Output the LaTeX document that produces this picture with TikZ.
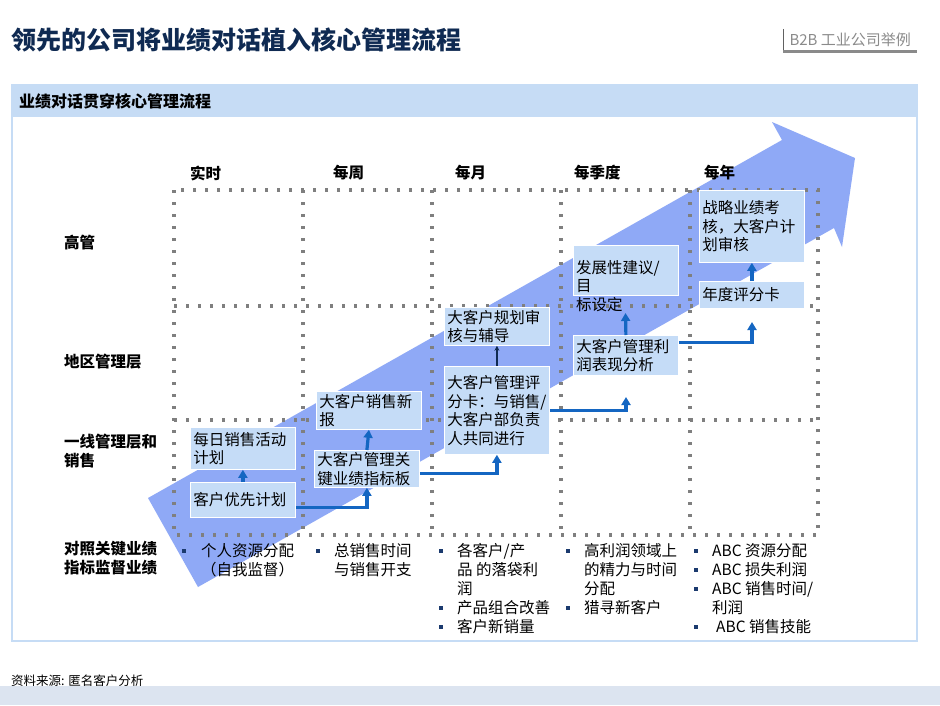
\documentclass[tikz,border=0pt]{standalone}
\usepackage{fontspec}
\setmainfont{Noto Sans CJK SC}
\usepackage{xcolor}
\usepackage{tikz}
\usetikzlibrary{arrows.meta, positioning}
\definecolor{titlenavy}{HTML}{0F2A52}
\definecolor{panelblue}{HTML}{C6DCF5}
\definecolor{cardblue}{HTML}{C5DCF7}
\definecolor{arrowblue}{HTML}{8FA9F6}
\definecolor{flowblue}{HTML}{1466C2}
\definecolor{gridgray}{HTML}{7F7F7F}
\definecolor{footband}{HTML}{DCE4F0}
\definecolor{bulletnavy}{HTML}{1B3A6E}
\definecolor{taggray}{HTML}{8A8A8A}

\begin{document}
\begin{tikzpicture}[
    x=1pt, y=-1pt,
    card/.style={
        rectangle, draw=white, line width=0.8pt, fill=cardblue,
        text width=99pt, inner xsep=3pt, inner ysep=2pt,
        align=left, anchor=north west,
        font=\fontsize{15.5}{18.5}\selectfont
    },
    cardtext/.style={inner sep=0pt, anchor=north west, align=left,
        font=\fontsize{15.5}{18.5}\selectfont},
    colhead/.style={anchor=west, inner sep=0pt, font=\fontsize{15.5}{19}\selectfont\bfseries},
    rowhead/.style={anchor=west, inner sep=0pt, align=left, font=\fontsize{15.5}{19}\selectfont\bfseries},
    item/.style={anchor=north west, inner sep=0pt, align=left, font=\fontsize{15.5}{19}\selectfont},
    bul/.style={rectangle, fill=bulletnavy, inner sep=0pt, minimum size=4.5pt},
    grid/.style={draw=gridgray, line width=3.2pt, dash pattern=on 3.2pt off 8.8pt},
    flow/.style={draw=flowblue, line width=3.2pt, -{Stealth[length=8pt, width=9pt, inset=0pt]}},
    thinflow/.style={draw=titlenavy, line width=1.2pt, -{Stealth[length=5pt, width=5pt]}}
]
\useasboundingbox (0,0) rectangle (940,705);

% title and tag
\node[anchor=west, inner sep=0pt, text=titlenavy, font=\fontsize{25}{28}\selectfont\bfseries] (title) at (11,40) {领先的公司将业绩对话植入核心管理流程};
\node[anchor=west, inner sep=2pt, minimum width=134pt, minimum height=22pt, text=taggray,
      font=\fontsize{15}{17}\selectfont] (tag) at (783,40) {B2B 工业公司举例};
\draw[taggray!70!black, line width=0.8pt] (tag.north west) -- (tag.south west);
\draw[taggray, line width=3pt] (tag.south west) -- (tag.south east);

% panel
\draw[panelblue, line width=2pt, fill=white] (12,85) rectangle (917,641);
\fill[panelblue] (12,85) rectangle (917,117);
\node[anchor=west, inner sep=0pt, font=\fontsize{16}{18}\selectfont\bfseries] (panelhead) at (19,101) {业绩对话贯穿核心管理流程};

% big arrow
\fill[arrowblue] (148,498) -- (782,140) -- (772,122) -- (855,158) -- (842,247) -- (834,228) -- (198,587) -- cycle;

% grid
\draw[grid] (174,190) rectangle (818,535);
\foreach \gx in {303,432,561,690}
    \draw[grid] (\gx,190) -- (\gx,535);
\foreach \gy in {306,420}
    \draw[grid] (174,\gy) -- (818,\gy);

% column and row heads
\node[colhead] (realtime) at (190,173) {实时};
\node[colhead] (weekly) at (333,173) {每周};
\node[colhead] (monthly) at (455,173) {每月};
\node[colhead] (quarterly) at (574,173) {每季度};
\node[colhead] (yearly) at (704,173) {每年};

\node[rowhead] (exec) at (64,243) {高管};
\node[rowhead] (region) at (64,362) {地区管理层};
\node[rowhead] (front) at (64,451) {一线管理层和\\销售};
\node[rowhead] (kpirow) at (64,558) {对照关键业绩\\指标监督业绩};

% cards
\node[card, minimum height=42pt] (daily) at (190,427) {每日销售活动\\计划};
\node[card, minimum height=35pt] (prio) at (190,482) {客户优先计划};
\node[card, minimum height=38pt] (news) at (316,391) {大客户销售新\\报};
\node[card, minimum height=36pt] (kpi) at (314,450) {大客户管理关\\键业绩指标板};
\node[card, minimum height=38pt] (plan) at (444,307) {大客户规划审\\核与辅导};
\node[card, minimum height=88pt] (score) at (444,366) {大客户管理评\\分卡：与销售/\\大客户部负责\\人共同进行};
\node[card, minimum height=50pt] (dev) at (573,245) {};
\node[cardtext] (devtext) at (576,260) {发展性建议/\\目\\标设定};
\node[card, minimum height=40pt] (profit) at (573,335) {大客户管理利\\润表现分析};
\node[card, minimum height=72pt] (strat) at (699,190) {战略业绩考\\核，大客户计\\划审核};
\node[card, minimum height=27pt] (annual) at (699,281) {年度评分卡};

% free ends
\coordinate (q1) at (626,397);
\coordinate (q2) at (625.5,313);
\coordinate (y1) at (752,322);

% connectors
\draw[flow] (prio.north) -- (daily.south);
\draw[flow] ([yshift=-7.5pt]prio.east) -| (kpi.south);
\draw[flow] (kpi.north) -- (news.south);
\draw[flow] ([yshift=-5pt]kpi.east) -| (score.south);
\draw[thinflow] (score.north) -- (plan.south);
\draw[flow] (score.east) -| (q1);
\draw[flow] (profit.north) -- (q2);
\draw[flow] ([yshift=13pt]profit.east) -| (y1);
\draw[flow] (annual.north) -- (strat.south);

% bullet lists
\node[bul] (b1) at (184,551) {};
\node[item] (m1) at (201,543.5) {个人资源分配\\（自我监督）};
\node[bul] (b2) at (318,551) {};
\node[item] (m2) at (334,543.5) {总销售时间\\与销售开支};
\node[bul] (b3) at (441,551) {};
\node[item] (m3) at (457,543.5) {各客户/产\\品 的落袋利\\润};
\node[bul] (b4) at (441,608) {};
\node[item] (m4) at (457,600.5) {产品组合改善};
\node[bul] (b5) at (441,627) {};
\node[item] (m5) at (457,619.5) {客户新销量};
\node[bul] (b6) at (568,551) {};
\node[item] (m6) at (584,543.5) {高利润领域上\\的精力与时间\\分配};
\node[bul] (b7) at (568,608) {};
\node[item] (m7) at (584,600.5) {猎寻新客户};
\node[bul] (b8) at (696,551) {};
\node[item] (m8) at (712,543.5) {ABC 资源分配};
\node[bul] (b9) at (696,570) {};
\node[item] (m9) at (712,562.5) {ABC 损失利润};
\node[bul] (b10) at (696,589) {};
\node[item] (m10) at (712,581.5) {ABC 销售时间/\\利润};
\node[bul] (b11) at (696,627) {};
\node[item] (m11) at (716,619.5) {ABC 销售技能};

% footer
\fill[footband] (0,686) rectangle (940,705);
\node[anchor=west, inner sep=0pt, font=\fontsize{12.5}{14}\selectfont] (source) at (11,681) {资料来源: 匿名客户分析};
\end{tikzpicture}
\end{document}
